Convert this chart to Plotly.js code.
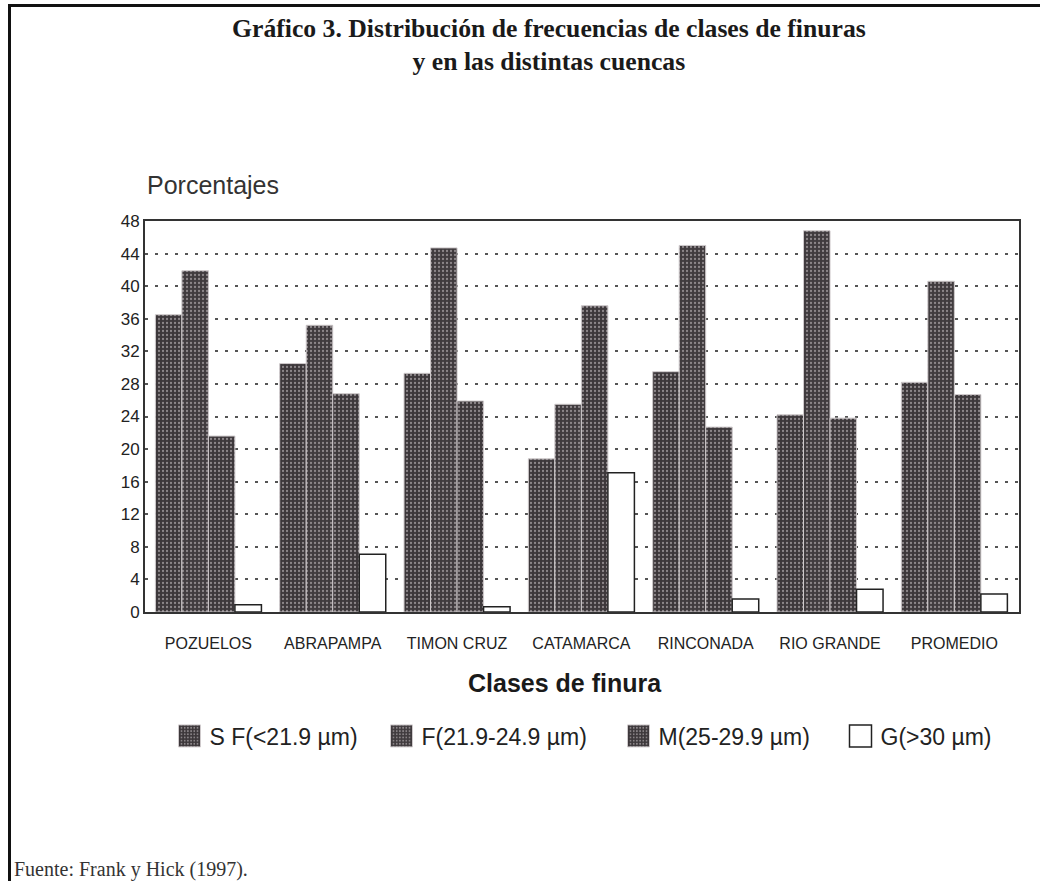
<!DOCTYPE html>
<html>
<head>
<meta charset="utf-8">
<script src="https://cdn.plot.ly/plotly-3.0.1.min.js"></script>
<style>
  html, body { margin: 0; padding: 0; background: #fff; }
  #wrap { position: relative; width: 1040px; height: 881px; }
  #chart { width: 1040px; height: 881px; }
  .frameTop { position: absolute; left: 8px; top: 4px; width: 1032px; height: 3px; background: #111; }
  .frameLeft { position: absolute; left: 8px; top: 4px; width: 3px; height: 877px; background: #111; }
</style>
</head>
<body>
<div id="wrap">
  <div id="chart"></div>
  <div class="frameTop"></div>
  <div class="frameLeft"></div>
</div>
<script>
const categories = ['POZUELOS', 'ABRAPAMPA', 'TIMON CRUZ', 'CATAMARCA', 'RINCONADA', 'RIO GRANDE', 'PROMEDIO'];
const seriesNames = ['S F(<21.9 µm)', 'F(21.9-24.9 µm)', 'M(25-29.9 µm)', 'G(>30 µm)'];
const sfValues = [36.5, 30.5, 29.3, 18.8, 29.5, 24.2, 28.2];
const fValues  = [41.9, 35.2, 44.7, 25.5, 45.0, 46.8, 40.6];
const mValues  = [21.6, 26.8, 25.9, 37.6, 22.7, 23.8, 26.7];
const gValues  = [0.9, 7.1, 0.65, 17.1, 1.6, 2.8, 2.2];
const yTicks = [0, 4, 8, 12, 16, 20, 24, 28, 32, 36, 40, 44, 48];

function darkBar(name, y, bg, legendId) {
  return {
    type: 'bar', name: name, x: categories, y: y, legend: legendId,
    marker: {
      color: bg,
      line: { color: '#cfcacc', width: 1 },
      pattern: { shape: '.', bgcolor: bg, fgcolor: '#8d878a', size: 4, solidity: 0.25 }
    },
    hoverinfo: 'y+name'
  };
}

const data = [
  darkBar(seriesNames[0], sfValues, '#3c373a', 'legend'),
  darkBar(seriesNames[1], fValues, '#403b3e', 'legend2'),
  darkBar(seriesNames[2], mValues, '#3d383b', 'legend3'),
  {
    type: 'bar', name: seriesNames[3], x: categories, y: gValues, legend: 'legend4',
    marker: { color: '#ffffff', line: { color: '#222', width: 1.5 } },
    hoverinfo: 'y+name'
  }
];

function legendAt(px) {
  return {
    orientation: 'h', x: (px - 145) / 874, xanchor: 'left', y: -0.317, yanchor: 'middle',
    bgcolor: 'rgba(0,0,0,0)',
    font: { size: 23, family: 'Liberation Sans, Arial, sans-serif', color: '#222' }
  };
}

const layout = {
  width: 1040, height: 881,
  margin: { l: 145, r: 21, t: 221, b: 269 },
  paper_bgcolor: '#ffffff', plot_bgcolor: '#ffffff',
  font: { family: 'Liberation Sans, Arial, sans-serif', color: '#222' },
  barmode: 'group', bargap: 0.147, bargroupgap: 0,
  showlegend: true,
  legend: legendAt(169.5),
  legend2: legendAt(381.5),
  legend3: legendAt(618.5),
  legend4: legendAt(840.5),
  xaxis: {
    type: 'category', range: [-0.51, 6.52],
    showline: true, linecolor: '#333', linewidth: 2, mirror: true,
    showgrid: false, zeroline: false,
    ticks: 'outside', ticklen: 16, tickcolor: 'rgba(0,0,0,0)',
    tickfont: { family: 'Liberation Sans, Arial, sans-serif', size: 16, color: '#222' }
  },
  yaxis: {
    range: [0, 48], tickmode: 'array', tickvals: yTicks, ticktext: yTicks.map(String),
    showline: true, linecolor: '#333', linewidth: 2, mirror: true,
    showgrid: true, gridcolor: '#555', gridwidth: 2, griddash: '3px,7px',
    zeroline: false, ticks: '',
    tickfont: { family: 'Liberation Sans, Arial, sans-serif', size: 17, color: '#222' }
  },
  annotations: [
    { text: '<b>Gráfico 3. Distribución de frecuencias de clases de finuras<br>y en las distintas cuencas</b>',
      xref: 'paper', yref: 'paper', x: (549 - 145) / 874, y: (612 - 45) / 391, yanchor: 'middle',
      xanchor: 'center', showarrow: false, align: 'center',
      font: { family: 'Liberation Serif, Times New Roman, serif', size: 25.7, color: '#1a1a1a' } },
    { text: 'Porcentajes', xref: 'paper', yref: 'paper', x: 0, xanchor: 'left',
      y: (612 - 185) / 391, yanchor: 'middle', showarrow: false,
      font: { size: 25, color: '#333' } },
    { text: '<b>Clases de finura</b>', xref: 'paper', yref: 'paper', x: (565 - 145) / 874, xanchor: 'center',
      y: (612 - 683) / 391, yanchor: 'middle', showarrow: false,
      font: { size: 25, color: '#1a1a1a' } },
    { text: 'Fuente: Frank y Hick (1997).', xref: 'paper', yref: 'paper', x: (12 - 145) / 874, xanchor: 'left',
      y: (612 - 869) / 391, yanchor: 'middle', showarrow: false,
      font: { family: 'Liberation Serif, Times New Roman, serif', size: 20, color: '#333' } }
  ]
};

function enlargeLegendSwatches() {
  document.querySelectorAll('#chart .legendpoints path').forEach(function (p) {
    p.setAttribute('d', 'M11,11H-11V-11H11Z');
  });
}

Plotly.newPlot('chart', data, layout, { displayModeBar: false, staticPlot: true }).then(enlargeLegendSwatches);
</script>
</body>
</html>
